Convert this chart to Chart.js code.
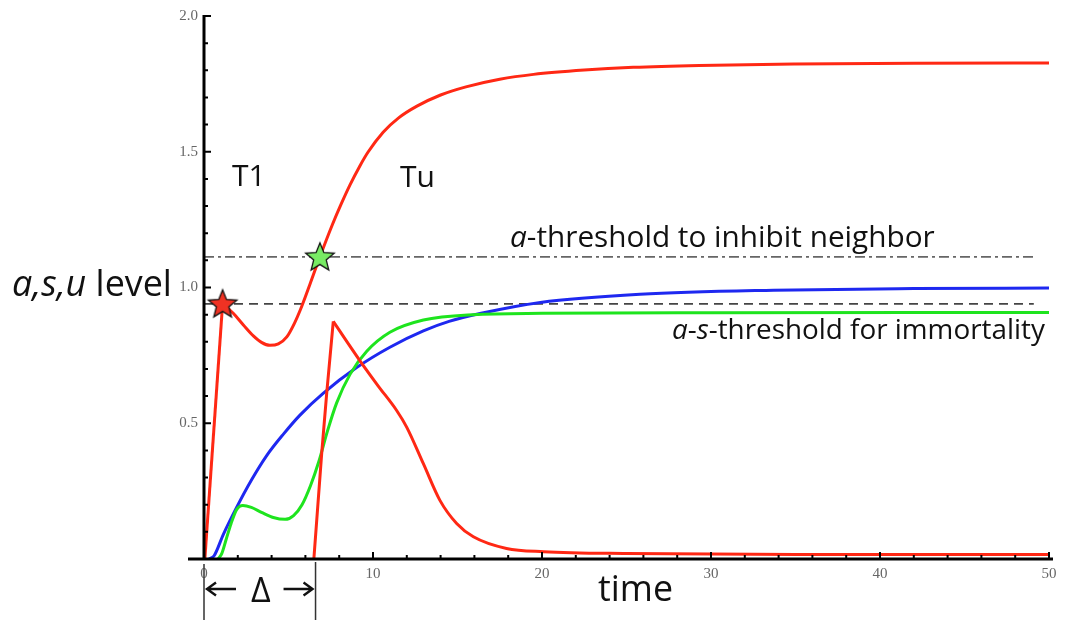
<!DOCTYPE html>
<html>
<head>
<meta charset="utf-8">
<script src="https://cdn.jsdelivr.net/npm/chart.js@4.4.1/dist/chart.umd.min.js"></script>
<style>
  html, body { margin: 0; padding: 0; background: #fff; }
  #wrap { width: 1065px; height: 620px; position: relative; }
</style>
</head>
<body>
<div id="wrap"><canvas id="levelChart"></canvas></div>
<script>
// --- axis ticks ---
const xTickValues = [0, 10, 20, 30, 40, 50];
const yTickValues = [0.5, 1.0, 1.5, 2.0];
const yTickLabels = ['0.5', '1.0', '1.5', '2.0'];

// --- curves, [time, level] ---
// a-level of T1 (red): steep rise up to the red star, then the S-curve
const aT1Rise = [[0.05, 0], [1.1, 0.94]];
const aT1 = [[1.1, 0.94], [1.73, 0.905], [2.33, 0.862], [2.92, 0.822], [3.4, 0.798], [3.9, 0.787],
  [4.4, 0.792], [4.9, 0.818], [5.35, 0.868], [5.78, 0.93], [6.27, 1.012], [6.86, 1.113], [7.6, 1.232],
  [8.1, 1.305], [8.64, 1.378], [9.2, 1.445], [9.7, 1.498], [10.6, 1.572], [11.5, 1.624], [12.6, 1.668],
  [14, 1.709], [15.5, 1.739], [17.5, 1.767], [19.5, 1.785], [22.5, 1.801], [25.4, 1.811],
  [29.3, 1.818], [35, 1.823], [42, 1.826], [50, 1.827]];
// a-level of Tu (red): starts after the delay, sharp peak, then decays
const aTuRise = [[6.5, 0], [6.96, 0.385], [7.26, 0.61], [7.65, 0.875]];
const aTu = [[7.65, 0.875], [9.23, 0.73], [10.3, 0.638], [11.4, 0.547], [12.0, 0.485], [12.98, 0.351],
  [13.96, 0.216], [14.95, 0.131], [15.94, 0.082], [17.9, 0.039], [20.1, 0.027], [25, 0.02],
  [35, 0.017], [50, 0.017]];
// s-level (green)
const sLevel = [[0.83, 0], [1.05, 0.02], [1.3, 0.07], [1.6, 0.13], [1.93, 0.182], [2.3, 0.197],
  [2.8, 0.19], [3.4, 0.172], [4.1, 0.153], [4.8, 0.146], [5.3, 0.16], [5.8, 0.2], [6.3, 0.27],
  [6.8, 0.36], [7.3, 0.47], [7.85, 0.575], [8.64, 0.68], [9.63, 0.765], [11, 0.835], [12.98, 0.88],
  [15.9, 0.9], [20, 0.905], [30, 0.907], [50, 0.908]];
// u-level (blue)
const uLevel = [[0.3, 0], [0.6, 0.012], [1.14, 0.09], [1.93, 0.19], [2.8, 0.29], [3.7, 0.38],
  [4.7, 0.46], [5.68, 0.53], [7.05, 0.61], [9.03, 0.705], [11, 0.78], [12.98, 0.84], [14.5, 0.875],
  [16.4, 0.905], [19.9, 0.945], [25.8, 0.975], [33.7, 0.99], [42, 0.996], [50, 0.998]];

// thresholds and markers
const immortalityThreshold = 0.94;
const inhibitThreshold = 1.113;
const thresholdEnd = 49.1;
const redStarAt = [1.1, 0.94];
const greenStarAt = [6.86, 1.113];
const delayT = 6.6;

const RED = 'rgb(255,40,20)';
const GREEN = 'rgb(30,228,30)';
const BLUE = 'rgb(30,40,240)';

const pts = arr => arr.map(([t, v]) => ({ x: t, y: v }));

function curve(data, color, smooth) {
    return {
        data: pts(data),
        showLine: true,
        borderColor: color,
        borderWidth: 3,
        pointRadius: 0,
        fill: false,
        tension: 0,
        cubicInterpolationMode: smooth ? 'monotone' : 'default'
    };
}

function hline(v, dash, color) {
    return {
        data: pts([[0, v], [thresholdEnd, v]]),
        showLine: true,
        borderColor: color,
        borderWidth: 1.8,
        borderDash: dash,
        pointRadius: 0
    };
}

// filled 5-point star, drawn once and used as point style
function makeStar(fill) {
    const c = document.createElement('canvas');
    c.width = 34; c.height = 34;
    const g = c.getContext('2d');
    g.beginPath();
    for (let i = 0; i < 10; i++) {
        const r = i % 2 === 0 ? 15 : 6.6;
        const a = -Math.PI / 2 + i * Math.PI / 5;
        g.lineTo(17 + r * Math.cos(a), 18 + r * Math.sin(a));
    }
    g.closePath();
    g.fillStyle = fill;
    g.fill();
    g.lineWidth = 1.3;
    g.strokeStyle = '#111';
    g.stroke();
    return c;
}

function drawRich(ctx, parts, x, baseline, size, width) {
    const fontOf = (it, s) => (it ? 'italic ' : '') + s + 'px "Open Sans"';
    let total = 0;
    parts.forEach(([t, it]) => { ctx.font = fontOf(it, size); total += ctx.measureText(t).width; });
    const s = width ? size * width / total : size;
    let cx = x;
    parts.forEach(([t, it]) => {
        ctx.font = fontOf(it, s);
        ctx.fillText(t, cx, baseline);
        cx += ctx.measureText(t).width;
    });
}

// axes, ticks and annotations drawn through the chart's scales
const axesAndText = {
    id: 'axesAndText',
    afterDatasetsDraw(chart) {
        const { ctx, scales: { x, y } } = chart;
        const x0 = x.getPixelForValue(0), y0 = y.getPixelForValue(0);
        ctx.save();
        ctx.strokeStyle = '#000';
        ctx.lineWidth = 3;
        ctx.beginPath();
        ctx.moveTo(x0 - 16, y0); ctx.lineTo(x.getPixelForValue(50) + 4, y0);
        ctx.moveTo(x0, y0 + 1); ctx.lineTo(x0, y.getPixelForValue(2) - 1);
        ctx.stroke();

        ctx.lineWidth = 2;
        ctx.beginPath();
        for (let i = 1; i <= 25; i++) {
            const px = x.getPixelForValue(i * 2), len = (i % 5 === 0) ? 7 : 4;
            ctx.moveTo(px, y0); ctx.lineTo(px, y0 - len);
        }
        for (let i = 1; i <= 20; i++) {
            const py = y.getPixelForValue(i / 10), len = (i % 5 === 0) ? 7 : 4;
            ctx.moveTo(x0, py); ctx.lineTo(x0 + len, py);
        }
        ctx.stroke();

        ctx.fillStyle = '#666';
        ctx.font = '15px "Liberation Serif"';
        ctx.textAlign = 'center';
        ctx.textBaseline = 'top';
        xTickValues.forEach(v => ctx.fillText(String(v), x.getPixelForValue(v), y0 + 8));
        ctx.textAlign = 'right';
        ctx.textBaseline = 'middle';
        yTickValues.forEach((v, i) => ctx.fillText(yTickLabels[i], x0 - 6, y.getPixelForValue(v)));

        // labels
        ctx.fillStyle = '#111';
        ctx.textAlign = 'left';
        ctx.textBaseline = 'alphabetic';
        drawRich(ctx, [['a,s,u', true], [' level', false]], 12, 296, 35, 160);
        drawRich(ctx, [['T1', false]], 232, 186, 30);
        drawRich(ctx, [['Tu', false]], 400, 187, 30);
        drawRich(ctx, [['a', true], ['-threshold to inhibit neighbor', false]], 510, 247, 25, 425);
        drawRich(ctx, [['a', true], ['-', false], ['s', true], ['-threshold for immortality', false]], 672, 339, 25, 373);
        drawRich(ctx, [['time', false]], 598, 601, 36, 75);

        // delay marker under the axis
        const xd = x.getPixelForValue(delayT);
        ctx.strokeStyle = '#333';
        ctx.lineWidth = 1.5;
        ctx.beginPath();
        ctx.moveTo(x0, 564); ctx.lineTo(x0, 620);
        ctx.moveTo(xd, 562); ctx.lineTo(xd, 620);
        ctx.stroke();
        ctx.strokeStyle = '#111';
        ctx.lineWidth = 2.4;
        ctx.beginPath();
        ctx.moveTo(x0 + 3, 589); ctx.lineTo(x0 + 32, 589);
        ctx.moveTo(x0 + 12, 582.5); ctx.lineTo(x0 + 3, 589); ctx.lineTo(x0 + 12, 595.5);
        ctx.moveTo(xd - 32, 589); ctx.lineTo(xd - 3, 589);
        ctx.moveTo(xd - 12, 582.5); ctx.lineTo(xd - 3, 589); ctx.lineTo(xd - 12, 595.5);
        ctx.stroke();
        ctx.textAlign = 'center';
        ctx.font = '34px "Open Sans"';
        ctx.fillText('\u0394', (x0 + xd) / 2 + 1, 602);
        ctx.restore();
    }
};

const ctxLevel = document.getElementById('levelChart').getContext('2d');
const levelChart = new Chart(ctxLevel, {
    type: 'scatter',
    data: {
        datasets: [
            {
                data: pts([redStarAt, greenStarAt]),
                pointStyle: [makeStar('rgb(240,50,35)'), makeStar('rgb(120,235,100)')],
                pointRadius: 15,
                showLine: false
            },
            curve(aT1Rise, RED, false),
            curve(aT1, RED, true),
            curve(aTuRise, RED, false),
            curve(aTu, RED, true),
            curve(sLevel, GREEN, true),
            curve(uLevel, BLUE, true),
            hline(immortalityThreshold, [9, 6], '#444'),
            hline(inhibitThreshold, [10, 4, 3, 4], '#666')
        ]
    },
    options: {
        responsive: true,
        maintainAspectRatio: false,
        animation: false,
        devicePixelRatio: 1,
        layout: { padding: { left: 204, right: 15, top: 14, bottom: 61 } },
        plugins: { legend: { display: false }, tooltip: { enabled: false } },
        scales: {
            x: { type: 'linear', min: 0, max: 50, display: false },
            y: { type: 'linear', min: 0, max: 2, display: false }
        }
    },
    plugins: [axesAndText]
});
</script>
</body>
</html>
